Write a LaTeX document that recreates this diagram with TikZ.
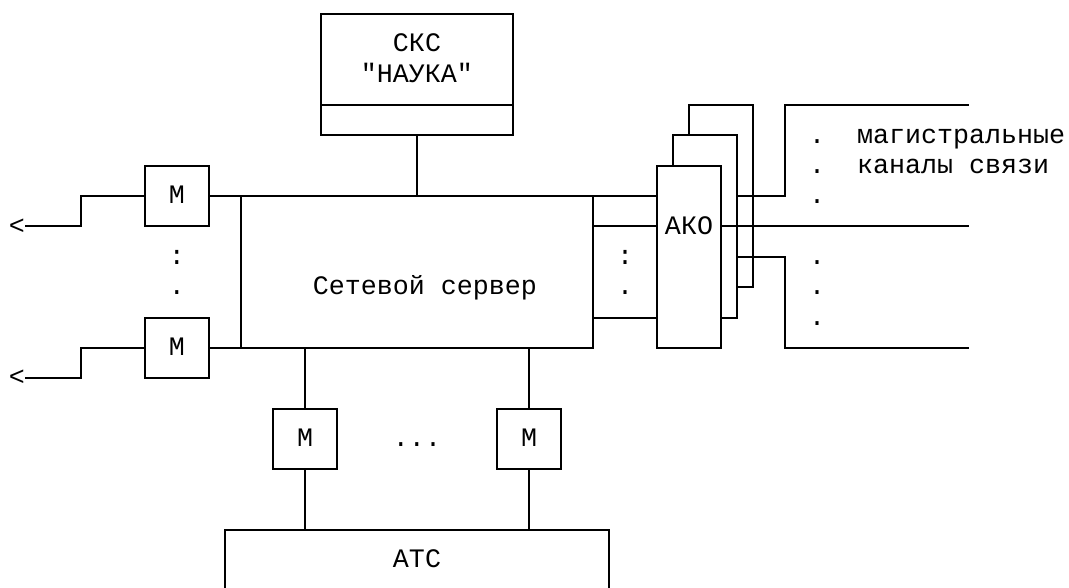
\documentclass[tikz,border=0pt]{standalone}
\usepackage{fontspec}
\newfontfamily\monof{Liberation Mono}
\begin{document}
\begin{tikzpicture}[x=16pt,y=-30.35pt,line width=2pt,
  txt/.style={font=\monof\fontsize{26.67}{30}\selectfont,inner sep=0pt,outer sep=0pt,text height=15.2pt,text depth=0pt},
  box/.style n args={2}{draw,fill=white,rectangle,inner sep=0pt,outer sep=0pt,minimum width=#1*16pt,minimum height=#2*30.35pt,txt}]
\useasboundingbox (-1pt,14pt) rectangle (1068pt,-573pt);
\clip (-1pt,14pt) rectangle (1068pt,-573pt);

% SKS
\node[box={12}{4}] (sks) at (26,2) {};
\coordinate (skd) at (26,3);
\draw (sks.west |- skd) -- (sks.east |- skd);
\node[txt] (sksA) at (26,1) {СКС};
\node[txt] (sksB) at (26,2) {"НАУКА"};

% server
\node[box={22}{5}] (srv) at (26,8.5) {};
\node[txt] (srvT) at (26.5,9) {Сетевой сервер};
\draw (sks.south) -- (srv.north);

% left modems
\node[box={4}{2}] (m1) at (11,6) {М};
\node[box={4}{2}] (m2) at (11,11) {М};
\node[txt] (ld1) at (11,8) {:};
\node[txt] (ld2) at (11,9) {.};
\node[txt] (arr1) at (1,7) {<};
\node[txt] (arr2) at (1,12) {<};
\draw (m1.west) -- ++(-4,0) |- (arr1.east);
\draw (m2.west) -- ++(-4,0) |- (arr2.east);

% AKO stack
\node[box={4}{6}] (ako3) at (45,6) {};
\node[box={4}{6}] (ako2) at (44,7) {};
\node[box={4}{6}] (ako1) at (43,8) {};
\node[txt] (akoT) at (43,7) {АКО};

\draw (m1.east) -- (ako1.west |- m1.east);
\draw (m2.east) -- (srv.south west);
\node[txt] (rd1) at (39,8) {:};
\node[txt] (rd2) at (39,9) {.};
\coordinate (r10) at (39,10);
\draw (srv.east |- akoT) -- (ako1.west |- akoT);
\draw (srv.east |- r10) -- (ako1.west |- r10);

% bottom modems and ATS
\node[box={24}{2}] (atc) at (26,18) {АТС};
\node[box={4}{2}] (m3) at (19,14) {М};
\node[box={4}{2}] (m4) at (33,14) {М};
\node[txt] (bd) at (26,14) {...};
\draw (m3.north |- srv.south) -- (m3.north);
\draw (m3.south) -- (m3.south |- atc.north);
\draw (m4.north |- srv.south) -- (m4.north);
\draw (m4.south) -- (m4.south |- atc.north);

% trunk channels
\coordinate (c1) at (60.5,3);
\coordinate (c2) at (60.5,7);
\coordinate (c3) at (60.5,11);
\draw (ako2.east |- m1) -- ++(3,0) |- (c1);
\draw (ako1.east |- akoT) -- (c2);
\draw (ako2.east |- rd1) -- ++(3,0) |- (c3);
\foreach \r in {4,5,6,8,9,10} \node[txt] at (51,\r) {.};
\node[txt,anchor=west] (t1) at (53.5,4) {магистральные};
\node[txt,anchor=west] (t2) at (53.5,5) {каналы связи};
\end{tikzpicture}
\end{document}
